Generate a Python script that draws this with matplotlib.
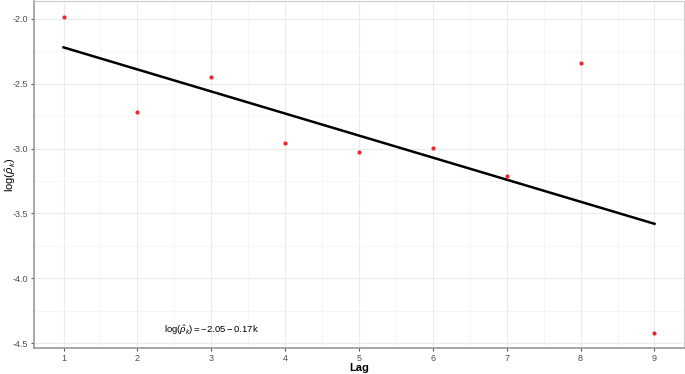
import matplotlib
matplotlib.use("Agg")
import matplotlib.pyplot as plt
import numpy as np
from matplotlib.ticker import MultipleLocator

plt.rcParams['font.family'] = ['Liberation Sans', 'DejaVu Sans']
plt.rcParams['mathtext.fontset'] = 'custom'
plt.rcParams['mathtext.rm'] = 'Liberation Sans'
plt.rcParams['mathtext.it'] = 'Liberation Sans:italic'

lags = [1, 2, 3, 4, 5, 6, 7, 8, 9]
log_rho = [-1.985, -2.715, -2.446, -2.954, -3.023, -2.992, -3.215, -2.338, -4.425]
intercept = -2.05
slope = -0.17
x_ticks = [1, 2, 3, 4, 5, 6, 7, 8, 9]
y_ticks = [-2.0, -2.5, -3.0, -3.5, -4.0, -4.5]
y_tick_labels = ['-2.0', '-2.5', '-3.0', '-3.5', '-4.0', '-4.5']

fig = plt.figure(figsize=(6.85, 3.74), dpi=100)
ax = fig.add_axes([34/685, 26/374, 650/685, 347/374])

ax.set_xlim(0.6, 9.4)
ax.set_ylim(-4.5375, -1.8625)
ax.set_xticks(x_ticks)
ax.set_yticks(y_ticks)
ax.set_yticklabels(y_tick_labels)
ax.xaxis.set_minor_locator(MultipleLocator(0.5))
ax.yaxis.set_minor_locator(MultipleLocator(0.25))
ax.grid(which='major', color='#ebebeb', linewidth=0.8)
ax.grid(which='minor', color='#f3f3f3', linewidth=0.5)
ax.set_axisbelow(True)
ax.tick_params(which='minor', length=0)
ax.tick_params(which='major', length=2.5, pad=1.5, color='#555555', labelsize=6.5,
               labelcolor='#4d4d4d', width=0.8)

for s in ['top', 'right']:
    ax.spines[s].set_color('#cccccc')
    ax.spines[s].set_linewidth(0.8)
for s in ['left', 'bottom']:
    ax.spines[s].set_color('#999999')
    ax.spines[s].set_linewidth(1.2)

xs = np.array([lags[0], lags[-1]])
ax.plot(xs, intercept + slope * xs, color='black', linewidth=1.8, zorder=3)
ax.scatter(lags, log_rho, color='#e8282b', s=9, zorder=4, linewidths=0)

ax.text(3, -4.4, r'$\log(\hat{\rho}_k) = -2.05 - 0.17\mathrm{k}$', ha='center', va='center', fontsize=6.8)

ax.set_xlabel('Lag', fontsize=8, fontweight='bold', labelpad=0)
ax.set_ylabel(r'$\log(\hat{\rho}_k)$', fontsize=8)
ax.yaxis.set_label_coords(-0.025, 0.5)

fig.savefig('out.png', dpi=100)
